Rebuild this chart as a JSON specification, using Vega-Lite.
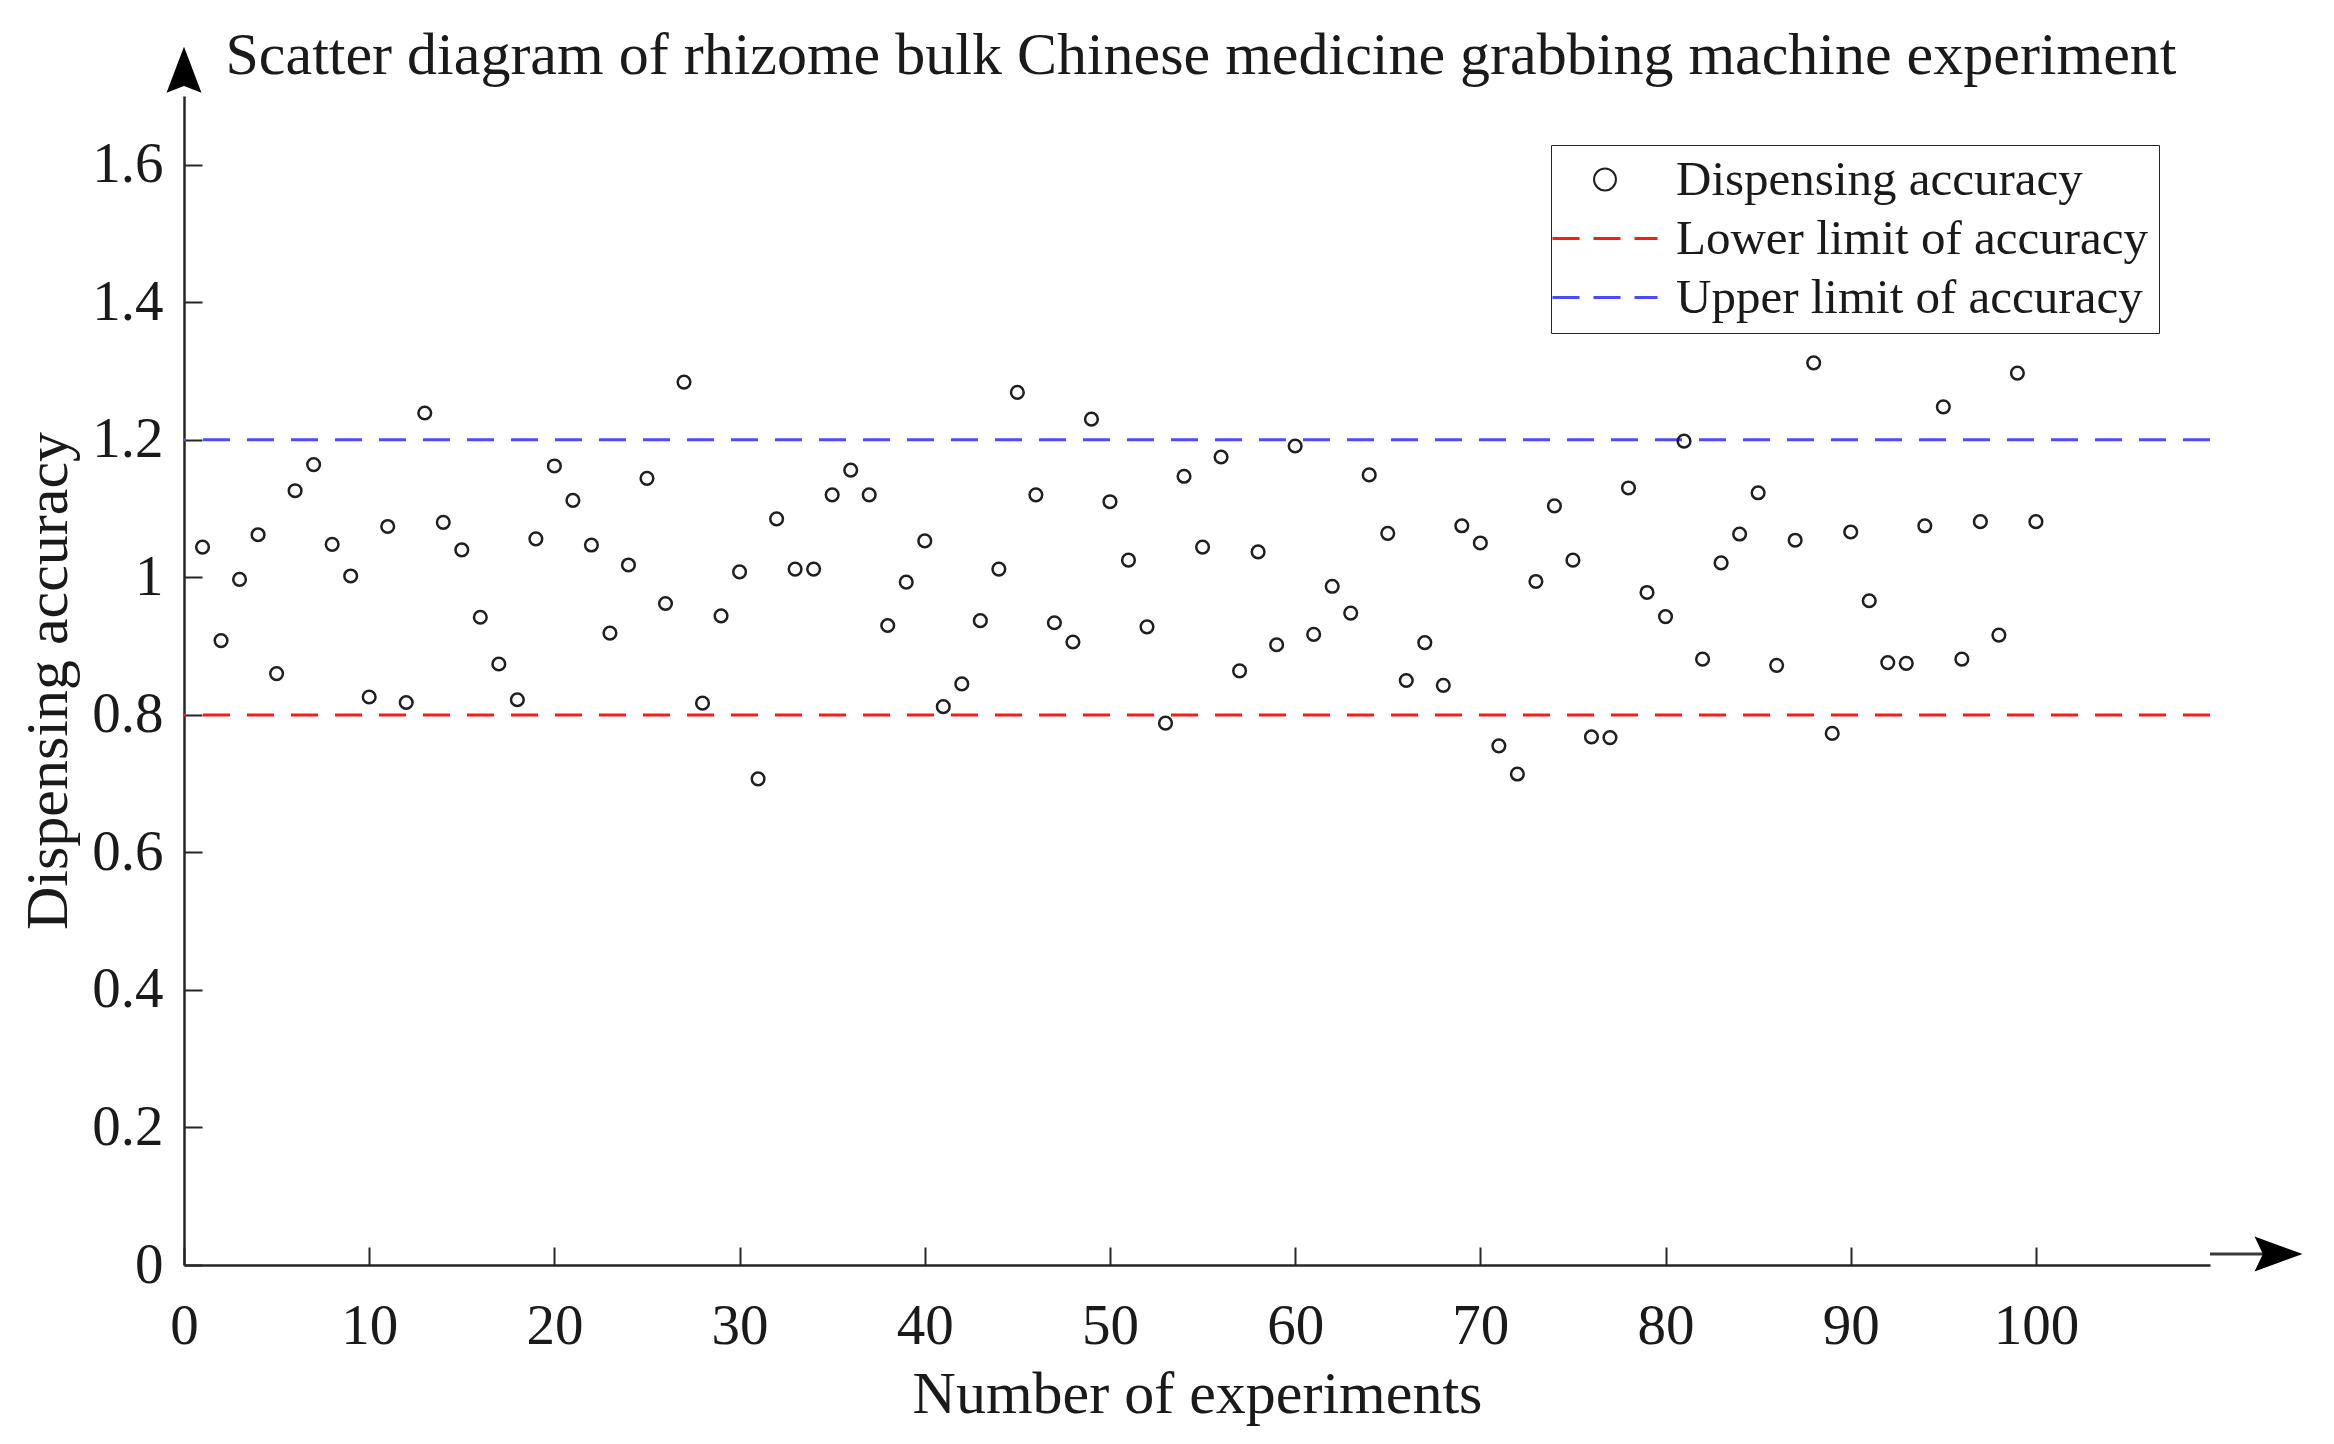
{
  "$schema": "https://vega.github.io/schema/vega-lite/v6.json",
  "autosize": {"type": "none"},
  "padding": {"left": 184, "top": 96, "right": 124, "bottom": 179},
  "width": 2026,
  "height": 1169,
  "background": "white",
  "title": {
    "text": "Scatter diagram of rhizome bulk Chinese medicine grabbing machine experiment",
    "font": "Liberation Serif",
    "fontSize": 60,
    "fontWeight": "normal",
    "color": "#1a1a1a",
    "frame": "group",
    "anchor": "middle",
    "baseline": "alphabetic",
    "offset": 0,
    "dy": 87,
    "dx": 4
  },
  "datasets": {
    "trials": [
      {"n": 1, "accuracy": 1.044}, {"n": 2, "accuracy": 0.908}, {"n": 3, "accuracy": 0.997},
      {"n": 4, "accuracy": 1.062}, {"n": 5, "accuracy": 0.860}, {"n": 6, "accuracy": 1.126},
      {"n": 7, "accuracy": 1.164}, {"n": 8, "accuracy": 1.048}, {"n": 9, "accuracy": 1.002},
      {"n": 10, "accuracy": 0.826}, {"n": 11, "accuracy": 1.074}, {"n": 12, "accuracy": 0.818},
      {"n": 13, "accuracy": 1.239}, {"n": 14, "accuracy": 1.080}, {"n": 15, "accuracy": 1.040},
      {"n": 16, "accuracy": 0.942}, {"n": 17, "accuracy": 0.874}, {"n": 18, "accuracy": 0.822},
      {"n": 19, "accuracy": 1.056}, {"n": 20, "accuracy": 1.162}, {"n": 21, "accuracy": 1.112},
      {"n": 22, "accuracy": 1.047}, {"n": 23, "accuracy": 0.919}, {"n": 24, "accuracy": 1.018},
      {"n": 25, "accuracy": 1.144}, {"n": 26, "accuracy": 0.962}, {"n": 27, "accuracy": 1.284},
      {"n": 28, "accuracy": 0.817}, {"n": 29, "accuracy": 0.944}, {"n": 30, "accuracy": 1.008},
      {"n": 31, "accuracy": 0.707}, {"n": 32, "accuracy": 1.085}, {"n": 33, "accuracy": 1.012},
      {"n": 34, "accuracy": 1.012}, {"n": 35, "accuracy": 1.120}, {"n": 36, "accuracy": 1.156},
      {"n": 37, "accuracy": 1.120}, {"n": 38, "accuracy": 0.930}, {"n": 39, "accuracy": 0.993},
      {"n": 40, "accuracy": 1.053}, {"n": 41, "accuracy": 0.812}, {"n": 42, "accuracy": 0.845},
      {"n": 43, "accuracy": 0.937}, {"n": 44, "accuracy": 1.012}, {"n": 45, "accuracy": 1.269},
      {"n": 46, "accuracy": 1.120}, {"n": 47, "accuracy": 0.934}, {"n": 48, "accuracy": 0.906},
      {"n": 49, "accuracy": 1.230}, {"n": 50, "accuracy": 1.110}, {"n": 51, "accuracy": 1.025},
      {"n": 52, "accuracy": 0.928}, {"n": 53, "accuracy": 0.788}, {"n": 54, "accuracy": 1.147},
      {"n": 55, "accuracy": 1.044}, {"n": 56, "accuracy": 1.175}, {"n": 57, "accuracy": 0.864},
      {"n": 58, "accuracy": 1.037}, {"n": 59, "accuracy": 0.902}, {"n": 60, "accuracy": 1.191},
      {"n": 61, "accuracy": 0.917}, {"n": 62, "accuracy": 0.987}, {"n": 63, "accuracy": 0.948},
      {"n": 64, "accuracy": 1.149}, {"n": 65, "accuracy": 1.064}, {"n": 66, "accuracy": 0.850},
      {"n": 67, "accuracy": 0.905}, {"n": 68, "accuracy": 0.843}, {"n": 69, "accuracy": 1.075},
      {"n": 70, "accuracy": 1.050}, {"n": 71, "accuracy": 0.755}, {"n": 72, "accuracy": 0.714},
      {"n": 73, "accuracy": 0.994}, {"n": 74, "accuracy": 1.104}, {"n": 75, "accuracy": 1.025},
      {"n": 76, "accuracy": 0.768}, {"n": 77, "accuracy": 0.767}, {"n": 78, "accuracy": 1.130},
      {"n": 79, "accuracy": 0.978}, {"n": 80, "accuracy": 0.943}, {"n": 81, "accuracy": 1.198},
      {"n": 82, "accuracy": 0.881}, {"n": 83, "accuracy": 1.021}, {"n": 84, "accuracy": 1.063},
      {"n": 85, "accuracy": 1.123}, {"n": 86, "accuracy": 0.872}, {"n": 87, "accuracy": 1.054},
      {"n": 88, "accuracy": 1.312}, {"n": 89, "accuracy": 0.773}, {"n": 90, "accuracy": 1.066},
      {"n": 91, "accuracy": 0.966}, {"n": 92, "accuracy": 0.876}, {"n": 93, "accuracy": 0.875},
      {"n": 94, "accuracy": 1.075}, {"n": 95, "accuracy": 1.248}, {"n": 96, "accuracy": 0.881},
      {"n": 97, "accuracy": 1.081}, {"n": 98, "accuracy": 0.916}, {"n": 99, "accuracy": 1.297},
      {"n": 100, "accuracy": 1.081}
    ],
    "limits": [
      {"series": "Lower limit of accuracy", "accuracy": 0.8},
      {"series": "Upper limit of accuracy", "accuracy": 1.2}
    ],
    "arrowUp": [{"n": 0, "accuracy": 1.738}],
    "arrowRight": [{"n": 113.1, "accuracy": 0.016}],
    "shaft": [{"n": 109.4, "n2": 112.6, "accuracy": 0.016}]
  },
  "layer": [
    {
      "data": {"name": "limits"},
      "mark": {"type": "rule", "strokeWidth": 3, "strokeDash": [27, 17]},
      "encoding": {
        "y": {"field": "accuracy", "type": "quantitative"},
        "color": {
          "field": "series",
          "type": "nominal",
          "scale": {
            "domain": ["Dispensing accuracy", "Lower limit of accuracy", "Upper limit of accuracy"],
            "range": ["#1f1f1f", "#ff1a1a", "#4b4bff"]
          },
          "legend": {
            "orient": "none",
            "legendX": 1367,
            "legendY": 49,
            "title": null,
            "symbolType": "stroke",
            "symbolSize": 11025,
            "symbolStrokeWidth": 3,
            "labelFont": "Liberation Serif",
            "labelFontSize": 49,
            "labelColor": "#1a1a1a",
            "labelOffset": 66,
            "labelLimit": 1000,
            "padding": 10,
            "rowPadding": 9,
            "strokeColor": "#262626",
            "fillColor": "white",
            "cornerRadius": 0,
            "encode": {
              "symbols": {
                "update": {
                  "x": {"value": 44},
                  "shape": {"signal": "datum.value === 'Dispensing accuracy' ? 'circle' : 'stroke'"},
                  "size": {"signal": "datum.value === 'Dispensing accuracy' ? 480 : 11025"},
                  "strokeDash": {"signal": "datum.value === 'Dispensing accuracy' ? [] : [27, 14]"},
                  "strokeWidth": {"signal": "datum.value === 'Dispensing accuracy' ? 2 : 3"},
                  "fill": {"value": "transparent"}
                }
              }
            }
          }
        }
      }
    },
    {
      "data": {"name": "trials"},
      "mark": {"type": "point", "filled": false, "size": 160, "strokeWidth": 2.5, "opacity": 1},
      "encoding": {
        "x": {
          "field": "n",
          "type": "quantitative",
          "title": "Number of experiments",
          "scale": {"domain": [0, 109.4], "nice": false, "zero": false},
          "axis": {
            "values": [0, 10, 20, 30, 40, 50, 60, 70, 80, 90, 100],
            "grid": false,
            "tickSize": -18,
            "labelPadding": 51,
            "labelFlush": false,
            "titlePadding": 11
          }
        },
        "y": {
          "field": "accuracy",
          "type": "quantitative",
          "title": "Dispensing accuracy",
          "scale": {"domain": [0, 1.7], "nice": false, "zero": true},
          "axis": {
            "values": [0, 0.2, 0.4, 0.6, 0.8, 1, 1.2, 1.4, 1.6],
            "format": "~g",
            "grid": false,
            "tickSize": -18,
            "labelPadding": 39,
            "labelFlush": false,
            "titlePadding": 12
          }
        },
        "color": {"datum": "Dispensing accuracy", "type": "nominal"}
      }
    },
    {
      "data": {"name": "shaft"},
      "mark": {"type": "rule", "strokeWidth": 3, "color": "#3a3a3a"},
      "encoding": {
        "x": {"field": "n", "type": "quantitative"},
        "x2": {"field": "n2"},
        "y": {"field": "accuracy", "type": "quantitative"}
      }
    },
    {
      "data": {"name": "arrowUp"},
      "mark": {"type": "point", "filled": true, "color": "black", "opacity": 1, "size": 2116, "shape": "M0,-1L0.76,1L0,0.7L-0.76,1Z"},
      "encoding": {
        "x": {"field": "n", "type": "quantitative"},
        "y": {"field": "accuracy", "type": "quantitative"}
      }
    },
    {
      "data": {"name": "arrowRight"},
      "mark": {"type": "point", "filled": true, "color": "black", "opacity": 1, "size": 2304, "shape": "M1,0L-1,0.73L-0.65,0L-1,-0.73Z"},
      "encoding": {
        "x": {"field": "n", "type": "quantitative"},
        "y": {"field": "accuracy", "type": "quantitative"}
      }
    }
  ],
  "config": {
    "view": {"stroke": null},
    "axis": {
      "labelFont": "Liberation Serif",
      "labelFontSize": 57,
      "labelColor": "#1a1a1a",
      "titleFont": "Liberation Serif",
      "titleFontSize": 60,
      "titleFontWeight": "normal",
      "titleColor": "#1a1a1a",
      "domainColor": "#262626",
      "domainWidth": 2.5,
      "tickColor": "#262626",
      "tickWidth": 2
    }
  }
}
